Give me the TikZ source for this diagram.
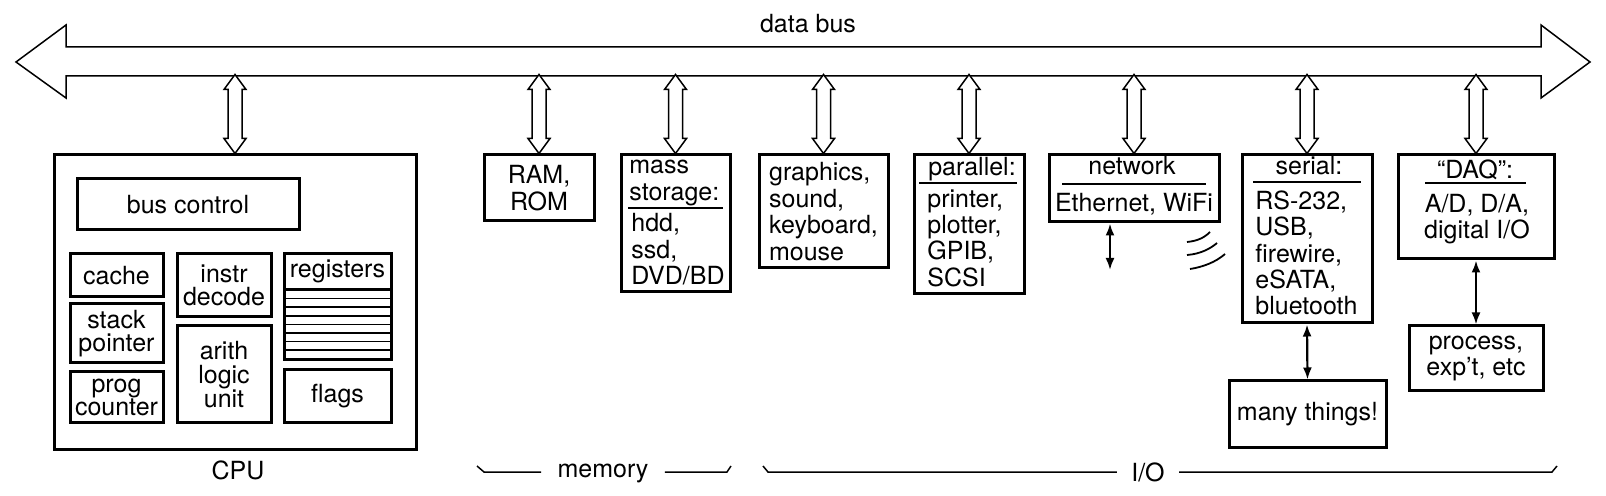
\documentclass[tikz,border=0pt]{standalone}
\usepackage{fontspec}
\setmainfont{TeX Gyre Heros}
\usetikzlibrary{arrows.meta}

% hollow two-way arrow from a box up to the bus
\newcommand{\busarrow}[1]{%
\draw[hollow] (#1.north) -- ++(-11,-15) -- ++(4,0) -- ++(0,-49) -- ++(-4,0)
  -- ++(11,-15) -- ++(11,15) -- ++(-4,0) -- ++(0,49) -- ++(4,0) -- cycle;}

\begin{document}
\begin{tikzpicture}[x=0.5pt,y=-0.5pt,
  every node/.style={font=\fontsize{12.5pt}{13.2pt}\selectfont},
  box/.style={draw, line width=1.5pt, inner sep=0pt, align=center},
  cpubox/.style={box, font=\fontsize{12.5pt}{11.8pt}\selectfont},
  txt/.style={inner sep=0pt, align=left},
  sepline/.style={line width=1.1pt},
  rowline/.style={line width=0.8pt},
  hollow/.style={line width=0.75pt, fill=white, line join=miter},
  busline/.style={line width=0.75pt, line join=miter},
  twoway/.style={line width=1.1pt, {Latex[length=6pt,width=4.5pt]}-{Latex[length=6pt,width=4.5pt]}},
  wave/.style={line width=0.9pt},
  brace/.style={line width=0.75pt}]
\useasboundingbox (0,0) rectangle (1606,496);

% data bus
\draw[busline] (16,62) -- (66,25) -- (66,47) -- (1541,47) -- (1541,25) -- (1590,62)
  -- (1541,98) -- (1541,76) -- (66,76) -- (66,98) -- cycle;
\node[anchor=base] (buslabel) at (808,33) {data bus};

% cpu
\node[box, minimum width=181pt, minimum height=147.5pt] (cpu) at (235,302.5) {};
\node[anchor=base] (cpulabel) at (238,480) {CPU};
\node[cpubox, minimum width=111pt, minimum height=25.5pt] (busctl) at (188,204.5) {bus control};
\node[cpubox, minimum width=46.5pt, minimum height=21.5pt] (cache) at (116.5,275.5) {cache};
\node[cpubox, minimum width=46.5pt, minimum height=29.5pt] (stack) at (116.5,333.5) {stack\\pointer};
\node[cpubox, minimum width=46.5pt, minimum height=25.5pt] (prog) at (116.5,397.5) {prog\\counter};
\node[cpubox, minimum width=47pt, minimum height=31.5pt] (instr) at (224,285.5) {instr\\decode};
\node[cpubox, minimum width=47pt, minimum height=48.5pt] (alu) at (224,374.5) {arith\\logic\\unit};
\node[cpubox, minimum width=53.5pt, minimum height=53pt] (regs) at (337.5,307) {};
\node[txt] (regsh) at (337.5,271) {registers};
\node[cpubox, minimum width=53.5pt, minimum height=26.5pt] (flags) at (337.5,396.5) {flags};

% register rows
\draw[line width=1.5pt] (284,290) -- (391,290);
\foreach \i in {1,...,7}
  \draw[rowline] (284,{290+8.6*\i}) -- (391,{290+8.6*\i});

% memory
\node[box, minimum width=55pt, minimum height=33pt] (ram) at (539,188) {RAM,\\ROM};
\node[box, minimum width=54.5pt, minimum height=68.5pt] (mass) at (675.5,223.5) {};
\node[txt, anchor=west] (massh) at (629,183) {mass\\storage:};
\node[txt, anchor=west] (massb) at (631,249.5) {hdd,\\ssd,\\DVD/BD};
\draw[sepline] (628,208) -- (723,208);

% i/o
\node[box, align=left, minimum width=64.5pt, minimum height=56.5pt] (graph) at (823.5,211.5) {graphics,\\sound,\\keyboard,\\mouse};

\node[box, minimum width=55pt, minimum height=69.5pt] (par) at (969,224.5) {};
\node[txt] (parh) at (972,169) {parallel:};
\node[txt, anchor=west] (parb) at (927,238) {printer,\\plotter,\\GPIB,\\SCSI};
\draw[sepline] (919,183) -- (1017,183);

\node[box, minimum width=85pt, minimum height=33.5pt] (net) at (1134,188.5) {};
\node[txt] (neth) at (1132,166) {network};
\node[txt] (netb) at (1134,204) {Ethernet, WiFi};
\draw[sepline] (1062,184) -- (1206,184);

\node[box, minimum width=65pt, minimum height=84pt] (ser) at (1307,239) {};
\node[txt] (serh) at (1309,166) {serial:};
\node[txt, anchor=west] (serb) at (1255,253) {RS-232,\\USB,\\firewire,\\eSATA,\\bluetooth};
\draw[sepline] (1253,182) -- (1361,182);

\node[box, minimum width=78pt, minimum height=52pt] (daq) at (1476,207) {};
\node[txt] (daqh) at (1475,170) {“DAQ”:};
\node[txt, align=center] (daqb) at (1477,219) {A/D, D/A,\\digital I/O};
\draw[sepline] (1425,183) -- (1526,183);

\node[box, minimum width=78.5pt, minimum height=33.5pt] (many) at (1307.5,414.5) {many things!};
\node[box, minimum width=67pt, minimum height=32.5pt] (proc) at (1476,358.5) {process,\\exp’t, etc};

% bus taps
\busarrow{cpu}
\busarrow{ram}
\busarrow{mass}
\busarrow{graph}
\busarrow{par}
\busarrow{net}
\busarrow{ser}
\busarrow{daq}

% small links
\coordinate (netend) at (1110,270);
\draw[twoway] (net.south -| netend) -- (netend);
\draw[twoway] (ser.south) -- (many.north);
\draw[twoway] (daq.south -| proc.north) -- (proc.north);

% wireless
\draw[wave] (1187,242) .. controls (1197,241) and (1204,238) .. (1210,232);
\draw[wave] (1187,255) .. controls (1200,254) and (1210,249) .. (1217,243);
\draw[wave] (1190,269) .. controls (1203,267) and (1216,262) .. (1225,254);

% groups
\coordinate (braceline) at (0,472);
\node[anchor=base, inner xsep=8pt] (memlabel) at (603,478) {memory};
\draw[brace] (477,466) -- (484,472) -- (memlabel.west |- braceline);
\draw[brace] (memlabel.east |- braceline) -- (727,472) -- (731,466);
\node[anchor=base, inner xsep=7pt] (iolabel) at (1148,481) {I/O};
\draw[brace] (763,466) -- (768,472) -- (iolabel.west |- braceline);
\draw[brace] (iolabel.east |- braceline) -- (1552,472) -- (1557,466);

\end{tikzpicture}
\end{document}
